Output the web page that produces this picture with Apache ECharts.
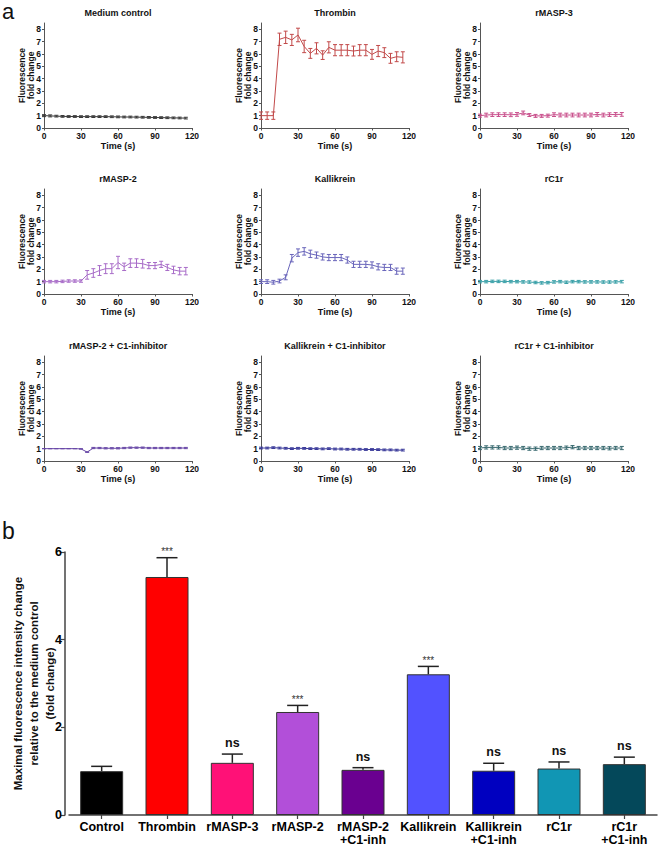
<!DOCTYPE html>
<html><head><meta charset="utf-8">
<script src="https://cdn.jsdelivr.net/npm/echarts@6/dist/echarts.min.js"></script>
<style>html,body{margin:0;padding:0;background:#fff}#c{width:658px;height:846px}</style>
</head><body><div id="c"></div><script>
// ---------- DATA ----------
const timeS = [0,5,10,15,20,25,30,35,40,45,50,55,60,65,70,75,80,85,90,95,100,105,110,115];
const xTickLabels = [0,30,60,90,120];
const yTickLabelsSmall = [0,1,2,3,4,5,6,7,8];
const panelTitles = ['Medium control','Thrombin','rMASP-3','rMASP-2','Kallikrein','rC1r','rMASP-2 + C1-inhibitor','Kallikrein + C1-inhibitor','rC1r + C1-inhibitor'];

const mediumMean = [1.00,0.98,0.96,0.94,0.93,0.93,0.92,0.92,0.92,0.92,0.92,0.91,0.90,0.89,0.89,0.88,0.87,0.86,0.85,0.84,0.83,0.82,0.81,0.80];
const mediumErr  = [0.08,0.08,0.07,0.07,0.07,0.07,0.07,0.07,0.07,0.07,0.07,0.07,0.07,0.07,0.07,0.07,0.07,0.07,0.07,0.07,0.07,0.07,0.07,0.07];
const thrombinMean = [1.00,1.00,1.00,7.18,7.34,7.13,7.53,6.60,6.04,6.45,5.90,6.53,6.30,6.30,6.30,6.23,6.30,6.30,5.96,6.23,6.10,5.64,5.77,5.72];
const thrombinErr  = [0.30,0.30,0.30,0.50,0.50,0.45,0.55,0.50,0.40,0.45,0.35,0.45,0.45,0.45,0.45,0.40,0.45,0.45,0.40,0.45,0.40,0.40,0.40,0.45];
const rmasp3Mean = [1.00,1.05,1.08,1.08,1.08,1.07,1.10,1.22,1.05,0.98,0.98,1.00,1.08,1.05,1.05,1.05,1.05,1.05,1.05,1.10,1.05,1.08,1.10,1.10];
const rmasp3Err  = [0.12,0.15,0.15,0.15,0.15,0.15,0.15,0.15,0.12,0.12,0.12,0.12,0.15,0.15,0.15,0.15,0.15,0.15,0.15,0.15,0.15,0.15,0.15,0.15];
const rmasp2Mean = [1.00,1.00,1.00,1.02,1.05,1.05,1.05,1.55,1.70,1.90,2.05,2.05,2.55,2.20,2.50,2.50,2.45,2.30,2.30,2.40,2.15,1.95,1.85,1.85];
const rmasp2Err  = [0.10,0.10,0.10,0.10,0.10,0.10,0.10,0.35,0.35,0.40,0.40,0.40,0.50,0.30,0.35,0.35,0.35,0.25,0.25,0.25,0.25,0.30,0.30,0.30];
const kallMean = [1.00,1.00,0.95,1.05,1.35,2.90,3.35,3.45,3.25,3.15,3.00,2.95,2.95,2.95,2.75,2.40,2.40,2.40,2.35,2.20,2.15,2.15,1.85,1.85];
const kallErr  = [0.15,0.15,0.15,0.15,0.20,0.30,0.30,0.30,0.30,0.25,0.25,0.25,0.25,0.25,0.25,0.25,0.25,0.25,0.25,0.25,0.25,0.25,0.25,0.25];
const rc1rMean = [1.00,1.00,1.02,1.02,1.02,1.00,1.00,0.98,0.97,0.93,0.90,0.92,0.98,1.00,0.95,1.00,1.00,0.98,0.98,0.98,0.97,0.97,0.98,1.00];
const rc1rErr  = [0.10,0.10,0.10,0.10,0.10,0.10,0.10,0.10,0.10,0.10,0.10,0.10,0.10,0.10,0.10,0.10,0.10,0.10,0.10,0.10,0.10,0.10,0.10,0.10];
const rmasp2InhMean = [1.00,1.00,1.00,1.00,1.00,1.00,0.98,0.72,1.05,1.05,1.03,1.03,1.03,1.05,1.08,1.08,1.08,1.05,1.05,1.05,1.05,1.05,1.05,1.05];
const rmasp2InhErr  = [0.01,0.01,0.01,0.01,0.01,0.01,0.01,0.02,0.05,0.05,0.05,0.05,0.05,0.05,0.05,0.05,0.05,0.05,0.05,0.05,0.05,0.05,0.05,0.05];
const kallInhMean = [1.05,1.05,1.08,1.05,1.03,1.00,1.03,1.02,1.00,1.00,0.98,1.00,0.97,0.97,0.95,0.95,0.95,0.93,0.93,0.92,0.90,0.90,0.88,0.88];
const kallInhErr  = [0.07,0.07,0.07,0.07,0.07,0.07,0.07,0.07,0.07,0.07,0.07,0.07,0.07,0.07,0.07,0.07,0.07,0.07,0.07,0.07,0.07,0.07,0.07,0.07];
const rc1rInhMean = [1.05,1.10,1.10,1.10,1.05,1.05,1.08,1.05,1.00,1.00,1.05,1.05,1.05,1.05,1.08,1.12,1.05,1.05,1.05,1.05,1.05,1.03,1.05,1.05];
const rc1rInhErr  = [0.13,0.13,0.13,0.13,0.13,0.13,0.13,0.13,0.13,0.13,0.13,0.13,0.13,0.13,0.13,0.13,0.13,0.13,0.13,0.13,0.13,0.13,0.13,0.13];

const barCategories = ['Control','Thrombin','rMASP-3','rMASP-2','rMASP-2\n+C1-inh','Kallikrein','Kallikrein\n+C1-inh','rC1r','rC1r\n+C1-inh'];
const barMeans = [1.00,5.43,1.19,2.35,1.03,3.21,1.01,1.06,1.16];
const barErrs  = [0.11,0.44,0.20,0.15,0.05,0.18,0.17,0.15,0.16];
const barSig   = ['','***','ns','***','ns','***','ns','ns','ns'];
const barYTicks = [0,2,4,6];

// ---------- STYLE / LAYOUT ----------
const FONT = '"Liberation Sans", Arial, sans-serif';
const panelMeans = [mediumMean,thrombinMean,rmasp3Mean,rmasp2Mean,kallMean,rc1rMean,rmasp2InhMean,kallInhMean,rc1rInhMean];
const panelErrs  = [mediumErr,thrombinErr,rmasp3Err,rmasp2Err,kallErr,rc1rErr,rmasp2InhErr,kallInhErr,rc1rInhErr];
const panelColors = ['#3a3a3a','#c24a4a','#c9508c','#a86cc8','#6a66bb','#3aa0a8','#6a4aa8','#3a3a9a','#3a6a70'];
const barColors = ['#000000','#ff0000','#ff1177','#b24fd9','#6a0090','#5252ff','#0000c0','#1196b4','#04485a'];
const colLeft = [44, 261, 480];
const rowTop = [23, 189, 356];
const PW = 148, PH = 105;

const grids = [], xAxes = [], yAxes = [], series = [], titles = [];
for (let i = 0; i < 9; i++) {
  const r = Math.floor(i / 3), c = i % 3;
  grids.push({left: colLeft[c], top: rowTop[r], width: PW, height: PH, outerBoundsMode: 'none', containLabel: false});
  xAxes.push({
    gridIndex: i, type: 'value', min: xTickLabels[0], max: xTickLabels[xTickLabels.length-1],
    interval: xTickLabels[1]-xTickLabels[0],
    axisLine: {show: true, onZero: false, lineStyle: {color: '#555', width: 1}},
    axisTick: {show: true, length: 2.5, lineStyle: {color: '#555'}},
    splitLine: {show: false},
    axisLabel: {fontSize: 8.5, fontWeight: 'bold', fontFamily: FONT, color: '#111', margin: 3},
    name: 'Time (s)', nameLocation: 'middle', nameGap: 13, nameMoveOverlap: false,
    nameTextStyle: {fontSize: 9, fontWeight: 'bold', fontFamily: FONT, color: '#111'}
  });
  yAxes.push({
    gridIndex: i, type: 'value', min: 0, max: 8.5,
    axisLine: {show: true, onZero: false, lineStyle: {color: '#555', width: 1}},
    axisTick: {show: true, length: 2, lineStyle: {color: '#555'}, customValues: yTickLabelsSmall},
    splitLine: {show: false},
    axisLabel: {fontSize: 8.5, fontWeight: 'bold', fontFamily: FONT, color: '#111', margin: 3, customValues: yTickLabelsSmall},
    name: 'Fluorescence\nfold change', nameLocation: 'middle', nameRotate: 90, nameGap: 8, nameMoveOverlap: false,
    nameTextStyle: {fontSize: 8.5, fontWeight: 'bold', fontFamily: FONT, color: '#111', lineHeight: 9.5}
  });
  titles.push({
    text: panelTitles[i], left: colLeft[c] + PW/2, top: rowTop[r] - 15, textAlign: 'center', padding: 0,
    textStyle: {fontSize: 9, fontWeight: 'bold', fontFamily: FONT, color: '#111'}
  });
  const mean = panelMeans[i], err = panelErrs[i];
  series.push({
    type: 'line', xAxisIndex: i, yAxisIndex: i, showSymbol: false, silent: true,
    data: timeS.map((t, k) => [t, mean[k]]),
    lineStyle: {width: 1, color: panelColors[i]}, itemStyle: {color: panelColors[i]}
  });
  series.push({
    type: 'custom', xAxisIndex: i, yAxisIndex: i, silent: true,
    itemStyle: {color: panelColors[i]},
    data: timeS.map((t, k) => [t, mean[k], err[k]]),
    encode: {x: 0, y: 1},
    renderItem: function (params, api) {
      const x = api.value(0), m = api.value(1), e = api.value(2);
      const hi = api.coord([x, m + e]), lo = api.coord([x, m - e]);
      const st = {stroke: panelColors[i], lineWidth: 1};
      return {type: 'group', children: [
        {type: 'line', shape: {x1: hi[0], y1: hi[1], x2: lo[0], y2: lo[1]}, style: st},
        {type: 'line', shape: {x1: hi[0]-2, y1: hi[1], x2: hi[0]+2, y2: hi[1]}, style: st},
        {type: 'line', shape: {x1: lo[0]-2, y1: lo[1], x2: lo[0]+2, y2: lo[1]}, style: st}
      ]};
    }
  });
}

// bar chart (panel b)
grids.push({left: 69, right: 1, top: 552, bottom: 31, outerBoundsMode: 'none', containLabel: false});
xAxes.push({
  gridIndex: 9, type: 'category', data: barCategories,
  axisLine: {show: true, lineStyle: {color: '#444', width: 1.5}},
  axisTick: {show: true, alignWithLabel: true, length: 4, lineStyle: {color: '#444', width: 1.2}},
  axisLabel: {interval: 0, fontSize: 12.5, fontWeight: 'bold', fontFamily: FONT, color: '#000', margin: 5, lineHeight: 13}
});
yAxes.push({
  gridIndex: 9, type: 'value', min: barYTicks[0], max: barYTicks[barYTicks.length-1],
  interval: barYTicks[1]-barYTicks[0], offset: 4,
  axisLine: {show: true, lineStyle: {color: '#444', width: 1.5}},
  axisTick: {show: true, length: 4, lineStyle: {color: '#444', width: 1.2}},
  splitLine: {show: false},
  axisLabel: {fontSize: 12.5, fontWeight: 'bold', fontFamily: FONT, color: '#000', margin: 3},
  name: 'Maximal fluorescence intensity change\nrelative to the medium control\n(fold change)',
  nameLocation: 'middle', nameRotate: 90, nameGap: 7, nameMoveOverlap: false,
  nameTextStyle: {fontSize: 11.5, fontWeight: 'bold', fontFamily: FONT, color: '#111', lineHeight: 16}
});
series.push({
  type: 'bar', xAxisIndex: 9, yAxisIndex: 9, barWidth: 43, silent: true,
  data: barMeans.map((v, i) => ({value: v, itemStyle: {color: barColors[i]}})),
  itemStyle: {borderColor: '#333', borderWidth: 1}
});
series.push({
  type: 'custom', xAxisIndex: 9, yAxisIndex: 9, silent: true, z: 5,
  data: barMeans.map((m, i) => [i, m, barErrs[i]]),
  encode: {x: 0, y: 1},
  renderItem: function (params, api) {
    const i = params.dataIndex;
    const m = api.value(1), e = api.value(2);
    const base = api.coord([i, m]), top = api.coord([i, m + e]);
    const st = {stroke: '#222', lineWidth: 1.5};
    const sig = barSig[i];
    const isStar = sig.indexOf('*') >= 0;
    const children = [
      {type: 'line', shape: {x1: base[0], y1: base[1], x2: top[0], y2: top[1]}, style: st},
      {type: 'line', shape: {x1: top[0]-10.5, y1: top[1], x2: top[0]+10.5, y2: top[1]}, style: st}
    ];
    if (sig) {
      children.push({type: 'text', style: {
        text: sig, x: top[0], y: top[1] - (isStar ? 6 : 11), align: 'center', verticalAlign: 'middle',
        fontSize: isStar ? 10 : 12.5, fontWeight: isStar ? 'normal' : 'bold', fontFamily: FONT, fill: isStar ? '#333' : '#111'
      }});
    }
    return {type: 'group', children: children};
  }
});

titles.push({text: 'a', left: 2, top: 0, padding: 0, textStyle: {fontSize: 22, fontWeight: 'normal', fontFamily: FONT, color: '#111'}});
titles.push({text: 'b', left: 2, top: 519, padding: 0, textStyle: {fontSize: 23, fontWeight: 'normal', fontFamily: FONT, color: '#111'}});

const chart = echarts.init(document.getElementById('c'), null, {renderer: 'svg', width: 658, height: 846});
chart.setOption({
  animation: false,
  backgroundColor: '#fff',
  title: titles,
  grid: grids,
  xAxis: xAxes,
  yAxis: yAxes,
  series: series
});
</script></body></html>
